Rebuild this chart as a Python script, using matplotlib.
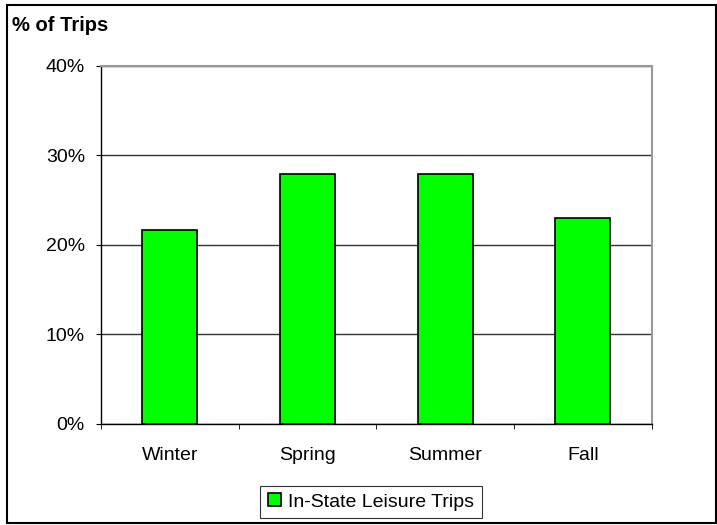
import matplotlib.pyplot as plt
from matplotlib.patches import Rectangle
from matplotlib.ticker import FixedLocator, PercentFormatter

seasons = ["Winter", "Spring", "Summer", "Fall"]
share = [21.6, 27.9, 27.9, 23.0]
series_name = "In-State Leisure Trips"
y_ticks = [0, 10, 20, 30, 40]

plt.rcParams["font.family"] = ["Liberation Sans", "DejaVu Sans"]

W, H = 717, 525
fig = plt.figure(figsize=(W / 100, H / 100), dpi=100)
ax = fig.add_axes([101 / W, 1 - 423.5 / H, (651.7 - 101) / W, (423.5 - 66) / H])

x = range(len(seasons))
bars = ax.bar(x, share, width=0.4, color="#00ff00", edgecolor="black", linewidth=1.2,
              label=series_name, zorder=3)

ax.set_xlim(-0.5, len(seasons) - 0.5)
ax.set_ylim(0, 40)
ax.set_yticks(y_ticks)
ax.yaxis.set_major_formatter(PercentFormatter(decimals=0))
ax.yaxis.grid(True, color="#333333", linewidth=1.0, zorder=0)
ax.set_xticks(list(x))
ax.set_xticklabels(seasons)
ax.xaxis.set_minor_locator(FixedLocator([i - 0.5 for i in range(len(seasons) + 1)]))
ax.tick_params(axis="x", which="major", length=0, pad=17, labelsize=14)
ax.tick_params(axis="x", which="minor", length=3.6, direction="out", color="black")
ax.tick_params(axis="y", length=3.6, direction="out", labelsize=14, pad=8)

ax.spines["left"].set_color("black")
ax.spines["bottom"].set_color("black")
ax.spines["left"].set_linewidth(1.0)
ax.spines["bottom"].set_linewidth(1.0)
ax.spines["top"].set_color("#999999")
ax.spines["right"].set_color("#999999")
ax.spines["top"].set_linewidth(1.5)
ax.spines["right"].set_linewidth(1.5)

fig.text(12 / W, 1 - 31 / H, "% of Trips", fontsize=14.5, fontweight="bold", va="baseline", ha="left")

leg = fig.legend(handles=[bars], labels=[series_name], loc="center",
                 bbox_to_anchor=(371 / W, 1 - 502 / H), frameon=True, fancybox=False,
                 edgecolor="black", fontsize=14, handlelength=0.65, handleheight=0.65,
                 handletextpad=0.36, borderpad=0.4)
leg.get_frame().set_linewidth(0.8)

fig.patches.append(Rectangle((7 / W, 2 / H), 1 - 8 / W, 1 - 7 / H, transform=fig.transFigure,
                             fill=False, edgecolor="black", linewidth=1.5))

fig.savefig("out.png", dpi=100)
